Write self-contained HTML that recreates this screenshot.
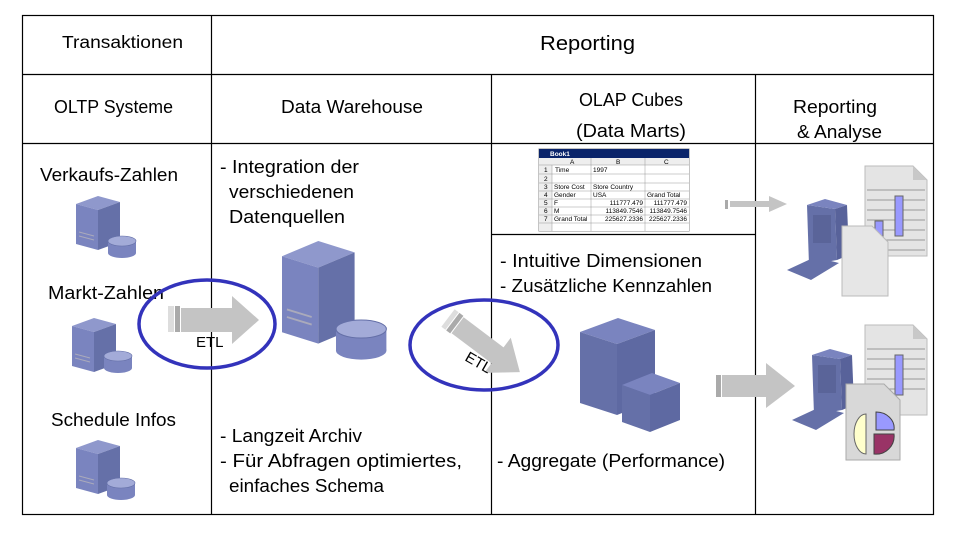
<!DOCTYPE html>
<html><head><meta charset="utf-8"><style>
body{margin:0;background:#fff;width:962px;height:536px;overflow:hidden}
svg text{font-family:"Liberation Sans","DejaVu Sans",sans-serif;fill:#000}
</style></head><body>
<svg width="962" height="536" viewBox="0 0 962 536" xmlns="http://www.w3.org/2000/svg">
<defs>
<g id="srv">
 <polygon points="0,8 22,0 44,6 22,14" fill="#8f98cc"/>
 <polygon points="0,8 22,14 22,54 0,48" fill="#7a84bf"/>
 <polygon points="22,14 44,6 44,46 22,54" fill="#6570a8"/>
 <line x1="3" y1="36" x2="18" y2="40" stroke="#aab" stroke-width="1"/>
 <line x1="3" y1="40" x2="18" y2="44" stroke="#aab" stroke-width="1"/>
</g>
<g id="cyl">
 <rect x="0" y="5" width="28" height="12" fill="#7a84bf"/>
 <ellipse cx="14" cy="17" rx="14" ry="5" fill="#7a84bf"/>
 <ellipse cx="14" cy="5" rx="14" ry="5" fill="#a3abd8" stroke="#6570a8" stroke-width="0.6"/>
</g>
<g id="pc">
 <polygon points="20,0 48,4 50,55 22,60" fill="#6570a8"/>
 <polygon points="20,0 38,-6 60,0 48,4" fill="#7a84bf"/>
 <polygon points="48,4 60,0 62,50 50,55" fill="#58629a"/>
 <polygon points="0,65 28,52 52,58 24,75" fill="#6570a8"/>
 <rect x="26" y="10" width="18" height="28" fill="#5a6499"/>
</g>
<g id="doc">
 <polygon points="0,0 48,0 62,14 62,90 0,90" fill="#e4e4e4" stroke="#bbb"/>
 <polygon points="48,0 62,14 48,14" fill="#c8c8c8"/>
</g>
</defs>

<g stroke="#000" stroke-width="1.2" fill="none">
 <rect x="22.5" y="15.5" width="911" height="499"/>
 <line x1="22" y1="74.5" x2="934" y2="74.5"/>
 <line x1="22" y1="143.5" x2="934" y2="143.5"/>
 <line x1="211.5" y1="15" x2="211.5" y2="514"/>
 <line x1="491.5" y1="74" x2="491.5" y2="514"/>
 <line x1="755.5" y1="74" x2="755.5" y2="514"/>
 <line x1="491" y1="234.5" x2="755" y2="234.5"/>
</g>

<g font-size="18.5">
 <text x="62" y="48" textLength="121" lengthAdjust="spacingAndGlyphs" font-size="17.5">Transaktionen</text>
 <text x="540" y="50" textLength="95" lengthAdjust="spacingAndGlyphs" font-size="20">Reporting</text>
 <text x="54" y="113" textLength="119" lengthAdjust="spacingAndGlyphs">OLTP Systeme</text>
 <text x="281" y="113" textLength="142" lengthAdjust="spacingAndGlyphs">Data Warehouse</text>
 <text x="579" y="106" textLength="104" lengthAdjust="spacingAndGlyphs">OLAP Cubes</text>
 <text x="576" y="137" textLength="110" lengthAdjust="spacingAndGlyphs">(Data Marts)</text>
 <text x="793" y="113" textLength="84" lengthAdjust="spacingAndGlyphs">Reporting</text>
 <text x="797" y="138" textLength="85" lengthAdjust="spacingAndGlyphs">&amp; Analyse</text>
 <text x="40" y="181" textLength="138" lengthAdjust="spacingAndGlyphs">Verkaufs-Zahlen</text>
 <text x="48" y="299" textLength="116" lengthAdjust="spacingAndGlyphs">Markt-Zahlen</text>
 <text x="51" y="426" textLength="125" lengthAdjust="spacingAndGlyphs">Schedule Infos</text>
 <text x="220" y="173" textLength="139" lengthAdjust="spacingAndGlyphs">- Integration der</text>
 <text x="229" y="198" textLength="125" lengthAdjust="spacingAndGlyphs">verschiedenen</text>
 <text x="229" y="223" textLength="116" lengthAdjust="spacingAndGlyphs">Datenquellen</text>
 <text x="220" y="442" textLength="142" lengthAdjust="spacingAndGlyphs">- Langzeit Archiv</text>
 <text x="220" y="467" textLength="242" lengthAdjust="spacingAndGlyphs">- Für Abfragen optimiertes,</text>
 <text x="229" y="492" textLength="155" lengthAdjust="spacingAndGlyphs">einfaches Schema</text>
 <text x="500" y="267" textLength="202" lengthAdjust="spacingAndGlyphs">- Intuitive Dimensionen</text>
 <text x="500" y="292" textLength="212" lengthAdjust="spacingAndGlyphs">- Zusätzliche Kennzahlen</text>
 <text x="497" y="467" textLength="228" lengthAdjust="spacingAndGlyphs">- Aggregate (Performance)</text>
</g>

<use href="#srv" x="76" y="196"/><use href="#cyl" x="108" y="236"/>
<use href="#srv" x="72" y="318"/><use href="#cyl" x="104" y="351"/>
<use href="#srv" x="76" y="440"/><use href="#cyl" x="107" y="478"/>

<g transform="translate(282,241) scale(1.65,1.9)"><use href="#srv"/></g>
<g transform="translate(336,320) scale(1.8)"><use href="#cyl"/></g>

<polygon points="580,332 618,318 655,330 617,344" fill="#7a84bf"/>
<polygon points="580,332 617,344 617,415 580,403" fill="#6570a8"/>
<polygon points="617,344 655,330 655,400 617,415" fill="#5e69a2"/>
<polygon points="622,385 652,373 680,383 650,395" fill="#7a84bf"/>
<polygon points="622,385 650,395 650,432 622,422" fill="#6570a8"/>
<polygon points="650,395 680,383 680,420 650,432" fill="#5e69a2"/>

<g>
 <rect x="168" y="306" width="6" height="26" fill="#ddd"/>
 <rect x="175" y="306" width="5" height="26" fill="#aaa"/>
 <polygon points="181,308 232,308 232,296 259,320 232,344 232,332 181,332" fill="#c4c4c4"/>
</g>
<ellipse cx="207" cy="324" rx="68" ry="44" fill="none" stroke="#3333bb" stroke-width="3.5"/>
<text x="196" y="347" font-size="15">ETL</text>

<g transform="translate(448,318) rotate(37)">
 <rect x="0" y="-11" width="5" height="22" fill="#ddd"/>
 <rect x="6" y="-11" width="5" height="22" fill="#aaa"/>
 <polygon points="12,-10 62,-10 62,-22 90,0 62,22 62,10 12,10" fill="#c4c4c4"/>
</g>
<ellipse cx="484" cy="345" rx="74" ry="45" fill="none" stroke="#3333bb" stroke-width="3.5"/>
<text x="0" y="0" font-size="15" transform="translate(464,360) rotate(30)">ETL</text>

<g font-size="6.5">
 <rect x="539" y="149" width="150" height="82" fill="#fff" stroke="#888"/>
 <rect x="539" y="149" width="150" height="9" fill="#0a246a"/>
 <text x="550" y="156" style="fill:#fff" font-weight="bold">Book1</text>
 <rect x="539" y="158" width="150" height="73" fill="#eee"/>
 <rect x="552" y="165" width="137" height="66" fill="#fff"/>
 <g stroke="#999" stroke-width="0.5">
  <line x1="552" y1="165" x2="552" y2="231"/><line x1="591" y1="158" x2="591" y2="231"/><line x1="645" y1="158" x2="645" y2="231"/>
  <line x1="539" y1="165" x2="689" y2="165"/><line x1="539" y1="174" x2="689" y2="174"/><line x1="539" y1="183" x2="689" y2="183"/>
  <line x1="539" y1="191" x2="689" y2="191"/><line x1="539" y1="199" x2="689" y2="199"/><line x1="539" y1="207" x2="689" y2="207"/>
  <line x1="539" y1="215" x2="689" y2="215"/><line x1="539" y1="223" x2="689" y2="223"/>
 </g>
 <text x="570" y="164">A</text><text x="616" y="164">B</text><text x="664" y="164">C</text>
 <text x="544" y="172">1</text><text x="555" y="172">Time</text><text x="593" y="172">1997</text>
 <text x="544" y="181">2</text>
 <text x="544" y="189">3</text><text x="554" y="189">Store Cost</text><text x="593" y="189">Store Country</text>
 <text x="544" y="197">4</text><text x="554" y="197">Gender</text><text x="593" y="197">USA</text><text x="647" y="197">Grand Total</text>
 <text x="544" y="205">5</text><text x="554" y="205">F</text><text x="643" y="205" text-anchor="end">111777.479</text><text x="687" y="205" text-anchor="end">111777.479</text>
 <text x="544" y="213">6</text><text x="554" y="213">M</text><text x="643" y="213" text-anchor="end">113849.7546</text><text x="687" y="213" text-anchor="end">113849.7546</text>
 <text x="544" y="221">7</text><text x="554" y="221">Grand Total</text><text x="643" y="221" text-anchor="end">225627.2336</text><text x="687" y="221" text-anchor="end">225627.2336</text>
</g>

<rect x="725" y="200" width="3" height="9" fill="#aaa"/>
<polygon points="730,201 769,201 769,196 787,204 769,212 769,207 730,207" fill="#c4c4c4"/>
<rect x="716" y="375" width="5" height="22" fill="#aaa"/>
<polygon points="722,375 766,375 766,363 795,386 766,408 766,397 722,397" fill="#c4c4c4"/>

<g transform="translate(865,166)"><use href="#doc"/>
 <g stroke="#999" stroke-width="1"><line x1="2" y1="24" x2="60" y2="24"/><line x1="2" y1="34" x2="60" y2="34"/><line x1="2" y1="44" x2="60" y2="44"/><line x1="2" y1="54" x2="60" y2="54"/><line x1="2" y1="64" x2="60" y2="64"/><line x1="2" y1="74" x2="60" y2="74"/><line x1="2" y1="84" x2="60" y2="84"/></g>
 <rect x="30" y="30" width="8" height="40" fill="#9999ff" stroke="#666"/>
 <rect x="10" y="55" width="8" height="30" fill="#9999ff" stroke="#666"/>
</g>
<use href="#pc" x="787" y="205"/>
<g transform="translate(842,226)"><polygon points="0,0 30,0 46,16 46,70 0,70" fill="#e6e6e6" stroke="#bbb"/></g>

<g transform="translate(865,325)"><use href="#doc"/>
 <g stroke="#999" stroke-width="1"><line x1="2" y1="24" x2="60" y2="24"/><line x1="2" y1="34" x2="60" y2="34"/><line x1="2" y1="44" x2="60" y2="44"/><line x1="2" y1="54" x2="60" y2="54"/><line x1="2" y1="64" x2="60" y2="64"/></g>
 <rect x="30" y="30" width="8" height="40" fill="#9999ff" stroke="#666"/>
</g>
<use href="#pc" x="792" y="355"/>
<g transform="translate(846,384)">
 <polygon points="0,0 38,0 54,16 54,76 0,76" fill="#d8d8d8" stroke="#aaa"/>
 <path d="M20,30 a12,20 0 1,0 0,40 z" fill="#ffffcc" stroke="#666"/>
 <path d="M30,28 l0,18 l18,0 a18,16 0 0,0 -18,-18z" fill="#9999ff" stroke="#444"/>
 <path d="M28,50 l20,0 a18,18 0 0,1 -20,20z" fill="#993366" stroke="#444"/>
</g>
</svg>
</body></html>
